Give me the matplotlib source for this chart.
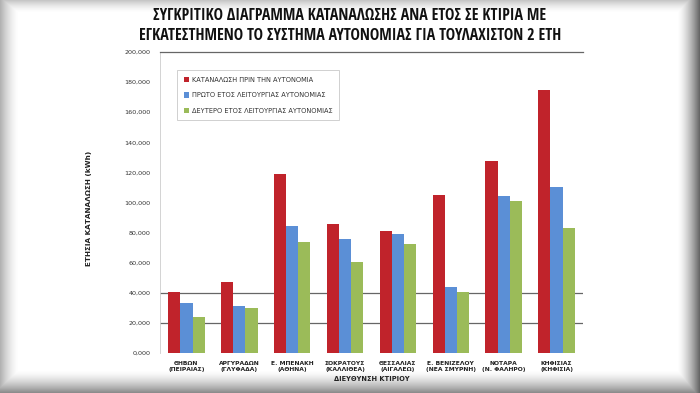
import numpy as np
import matplotlib
matplotlib.use("Agg")
import matplotlib.pyplot as plt
from matplotlib.ticker import FuncFormatter

plt.rcParams['font.family'] = ['DejaVu Sans']

categories = ["ΘΗΒΩΝ\n(ΠΕΙΡΑΙΑΣ)", "ΑΡΓΥΡΑΔΩΝ\n(ΓΛΥΦΑΔΑ)", "Ε. ΜΠΕΝΑΚΗ\n(ΑΘΗΝΑ)",
              "ΣΟΚΡΑΤΟΥΣ\n(ΚΑΛΛΙΘΕΑ)", "ΘΕΣΣΑΛΙΑΣ\n(ΑΙΓΑΛΕΩ)", "Ε. ΒΕΝΙΖΕΛΟΥ\n(ΝΕΑ ΣΜΥΡΝΗ)",
              "ΝΟΤΑΡΑ\n(Ν. ΦΑΛΗΡΟ)", "ΚΗΦΙΣΙΑΣ\n(ΚΗΦΙΣΙΑ)"]
before = [40700, 47500, 119000, 86000, 81300, 105300, 127300, 174700]
year1 = [32900, 31300, 84700, 76000, 79300, 44000, 104000, 110000]
year2 = [24200, 30000, 74000, 60700, 72700, 40700, 100700, 83300]
series_names = ["ΚΑΤΑΝΑΛΩΣΗ ΠΡΙΝ ΤΗΝ ΑΥΤΟΝΟΜΙΑ",
                "ΠΡΩΤΟ ΕΤΟΣ ΛΕΙΤΟΥΡΓΙΑΣ ΑΥΤΟΝΟΜΙΑΣ",
                "ΔΕΥΤΕΡΟ ΕΤΟΣ ΛΕΙΤΟΥΡΓΙΑΣ ΑΥΤΟΝΟΜΙΑΣ"]
colors = ["#c0232b", "#5b8fd6", "#9bbb59"]
yticks = list(range(0, 200001, 20000))

title_family = ['Open Sans Condensed', 'Roboto Condensed', 'DejaVu Sans']

W, H = 700, 393
fig = plt.figure(figsize=(7, 3.93), dpi=100)

# vignette background (slide frame)
bg = fig.add_axes([0, 0, 1, 1])
yy, xx = np.mgrid[0:H, 0:W]
def ramp(d, w):
    return np.clip(1 - d / w, 0, 1) ** 1.5
shade = np.maximum.reduce([
    ramp(xx, 18) * 0.30,
    ramp(W - 1 - xx, 22) * 0.60,
    ramp(yy, 12) * 0.22,
    ramp(H - 1 - yy, 22) * 0.45,
])
img = 1 - shade
bg.imshow(np.dstack([img, img, img]), extent=[0, W, H, 0], aspect='auto')
bg.axis('off')

ax = fig.add_axes([160 / W, 1 - 353 / H, (583 - 160) / W, (353 - 52) / H])
ax.set_facecolor('none')
x = np.arange(len(categories))
bw = 0.23
for i, (vals, c, n) in enumerate(zip([before, year1, year2], colors, series_names)):
    ax.bar(x + (i - 1) * bw, vals, bw, color=c, label=n, zorder=3)

ax.set_xlim(-0.5, len(categories) - 0.5)
ax.set_ylim(0, 200000)
ax.set_yticks(yticks)
ax.yaxis.set_major_formatter(FuncFormatter(lambda v, p: f"{int(v):,}" if v else "0,000"))
ax.tick_params(axis='y', labelsize=4.6, length=0, pad=7, labelcolor='#333333')
ax.set_xticks(x)
ax.set_xticklabels(categories, fontsize=4.3, fontweight='bold', color='#222222')
ax.tick_params(axis='x', length=0, pad=6)
for v in [20000, 40000]:
    ax.axhline(v, color='#666666', lw=0.9, zorder=1)
for s in ['right', 'bottom']:
    ax.spines[s].set_visible(False)
ax.spines['top'].set_color('#666666')
ax.spines['top'].set_linewidth(0.9)
ax.spines['left'].set_color('#cccccc')
ax.spines['left'].set_linewidth(0.6)

ax.set_xlabel("ΔΙΕΥΘΥΝΣΗ ΚΤΙΡΙΟΥ", fontsize=4.8, fontweight='bold', labelpad=3, color='#222222')
fig.text(89 / W, 1 - 208 / H, "ΕΤΗΣΙΑ ΚΑΤΑΝΑΛΩΣΗ (kWh)", rotation=90, fontsize=5.2,
         fontweight='bold', ha='center', va='center', color='#222222')

leg = ax.legend(loc='upper left', bbox_to_anchor=(14 / 423, 1 - 15 / 301), fontsize=4.8,
                frameon=True, fancybox=False, handlelength=0.8, handleheight=0.8,
                labelspacing=1.4, borderpad=1.0, handletextpad=0.4)
leg.get_frame().set_edgecolor('#bbbbbb')
leg.get_frame().set_linewidth(0.6)
for t in leg.get_texts():
    t.set_color('#333333')

for yline, txt in [(16, "ΣΥΓΚΡΙΤΙΚΟ ΔΙΑΓΡΑΜΜΑ ΚΑΤΑΝΑΛΩΣΗΣ ΑΝΑ ΕΤΟΣ ΣΕ ΚΤΙΡΙΑ ΜΕ"),
                   (36, "ΕΓΚΑΤΕΣΤΗΜΕΝΟ ΤΟ ΣΥΣΤΗΜΑ ΑΥΤΟΝΟΜΙΑΣ ΓΙΑ ΤΟΥΛΑΧΙΣΤΟΝ 2 ΕΤΗ")]:
    fig.text(0.5, 1 - yline / H, txt, ha='center', va='center', fontsize=11.4,
             fontweight='bold', family=title_family, color='#111111')

fig.savefig("out.png", dpi=100)
